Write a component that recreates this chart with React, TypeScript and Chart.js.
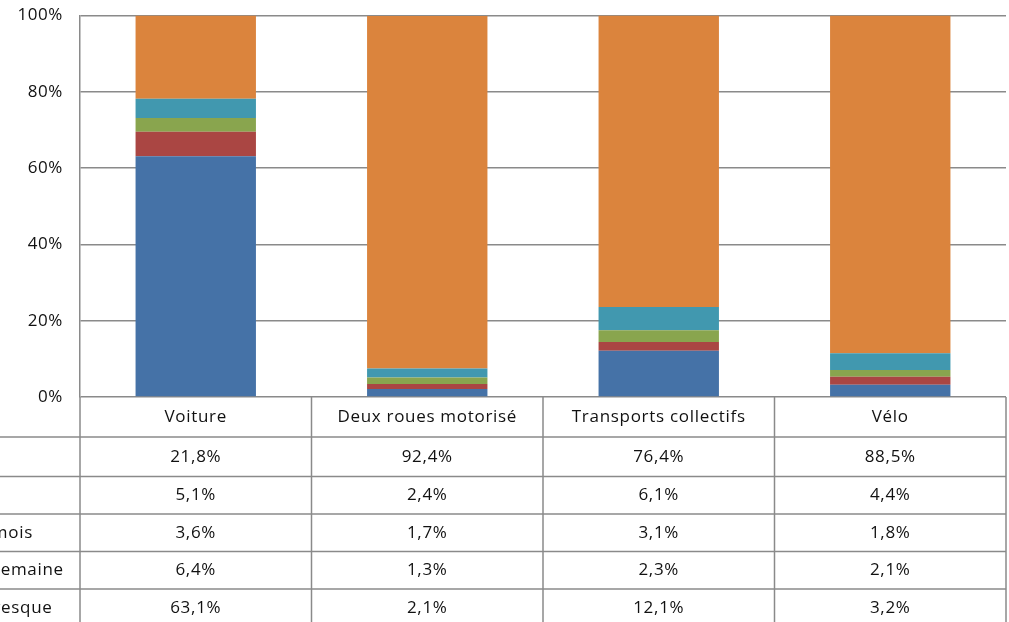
import React, { useEffect, useRef } from "react";
import { Chart, registerables } from "chart.js";

Chart.register(...registerables);

const categories = ["Voiture", "Deux roues motorisé", "Transports collectifs", "Vélo"];
const seriesLabels = [
  "Quotidiennement ou presque",
  "Au moins une fois par semaine",
  "Au moins une fois par mois",
  "Moins souvent",
  "Jamais",
];
const presque = [63.1, 2.1, 12.1, 3.2];
const semaine = [6.4, 1.3, 2.3, 2.1];
const mois = [3.6, 1.7, 3.1, 1.8];
const moinsSouvent = [5.1, 2.4, 6.1, 4.4];
const jamais = [21.8, 92.4, 76.4, 88.5];
const seriesColors = ["#4572A7", "#AA4643", "#89A54E", "#4198AF", "#DB843D"];

const FONT = "'Open Sans', 'DejaVu Sans', sans-serif";
const LINE = "#8a8a8a";

const fmt = (v: number) => v.toFixed(1).replace(".", ",") + "%";

const tablePlugin = {
  id: "dataTable",
  beforeDraw(chart: any) {
    chart.ctx.letterSpacing = "0.6px";
  },
  afterDraw(chart: any) {
    const { ctx, chartArea } = chart;
    const datasets = chart.data.datasets;
    const n = categories.length;
    const left = chartArea.left;
    const right = chartArea.right;
    const colW = (right - left) / n;
    const headerTop = chartArea.bottom;
    const headerH = 40;
    const firstRowH = 39.5;
    const rowH = 37.5;
    const rowTop = (r: number) => headerTop + headerH + (r === 0 ? 0 : firstRowH + (r - 1) * rowH);
    const rowHeight = (r: number) => (r === 0 ? firstRowH : rowH);
    const bottom = chart.height + 10;
    ctx.save();
    ctx.letterSpacing = "0.7px";
    ctx.strokeStyle = LINE;
    ctx.lineWidth = 1.5;
    for (let i = 0; i <= n; i++) {
      const x = left + i * colW;
      ctx.beginPath();
      ctx.moveTo(x, headerTop);
      ctx.lineTo(x, bottom);
      ctx.stroke();
    }
    const rowsOrder = datasets.map((_: any, i: number) => i).reverse();
    for (let r = 0; r < rowsOrder.length; r++) {
      const y = rowTop(r);
      ctx.beginPath();
      ctx.moveTo(-5, y);
      ctx.lineTo(right, y);
      ctx.stroke();
    }
    ctx.fillStyle = "#111";
    ctx.font = `17px ${FONT}`;
    ctx.textBaseline = "middle";
    ctx.textAlign = "center";
    categories.forEach((c, i) => {
      ctx.fillText(c, left + (i + 0.5) * colW, headerTop + headerH / 2);
    });
    const labelX = 33 - ctx.measureText(seriesLabels[2]).width;
    rowsOrder.forEach((di: number, r: number) => {
      const yc = rowTop(r) + rowHeight(r) / 2;
      ctx.textAlign = "center";
      datasets[di].data.forEach((v: number, i: number) => {
        ctx.fillText(fmt(v), left + (i + 0.5) * colW, yc);
      });
      ctx.textAlign = "left";
      ctx.fillText(datasets[di].label, labelX, yc);
    });
    ctx.restore();
  },
};

export default function App() {
  const ref = useRef<HTMLCanvasElement | null>(null);
  useEffect(() => {
    document.body.style.margin = "0";
    if (!ref.current) return;
    const values = [presque, semaine, mois, moinsSouvent, jamais];
    const chart = new Chart(ref.current, {
      type: "bar",
      data: {
        labels: categories,
        datasets: values.map((d, i) => ({
          label: seriesLabels[i],
          data: d,
          backgroundColor: seriesColors[i],
          borderWidth: 0,
          barPercentage: 0.52,
          categoryPercentage: 1,
        })),
      },
      options: {
        animation: false,
        responsive: true,
        maintainAspectRatio: false,
        layout: { padding: { top: 15.5, right: 3, bottom: 225, left: 0 } },
        plugins: { legend: { display: false }, tooltip: { enabled: false } },
        scales: {
          x: { stacked: true, display: false },
          y: {
            stacked: true,
            min: 0,
            max: 100,
            afterFit(scale: any) {
              scale.width = 80;
              scale.paddingTop = 0;
              scale.paddingBottom = 0;
            },
            ticks: {
              stepSize: 20,
              padding: 17,
              color: "#111",
              font: { family: FONT, size: 17 },
              callback: (v: any) => v + "%",
            },
            grid: { color: LINE, lineWidth: 1.5, drawTicks: false },
            border: { display: true, color: LINE, width: 1.5 },
          },
        },
      },
      plugins: [tablePlugin],
    });
    return () => chart.destroy();
  }, []);
  return (
    <div style={{ position: "absolute", left: 0, top: 0, width: 1009, height: 622 }}>
      <canvas ref={ref} />
    </div>
  );
}
